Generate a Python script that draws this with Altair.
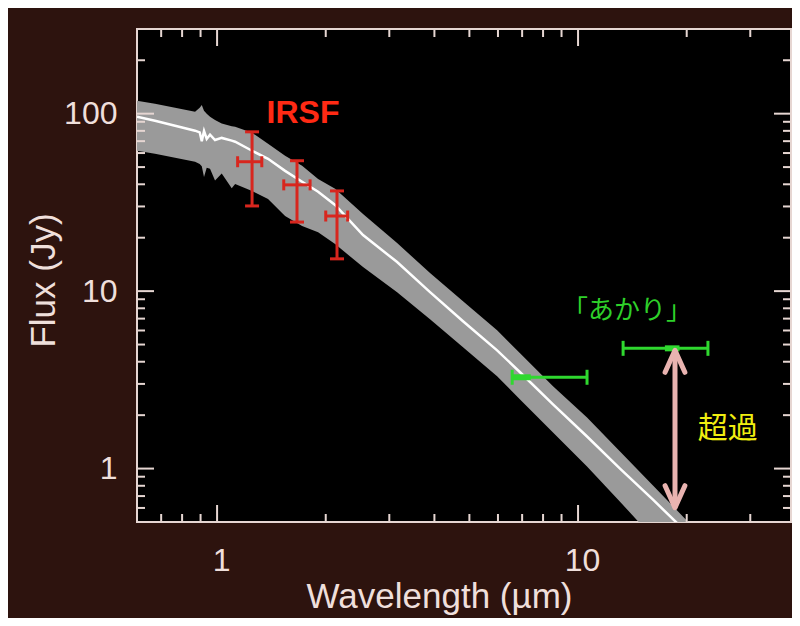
import altair as alt
import pandas as pd

# ---- model spectrum (gray band = range, white line = model)
wl = [0.600, 0.673, 0.765, 0.869, 0.895, 0.907, 0.920, 0.936, 0.956, 0.987, 1.030,
      1.098, 1.122, 1.250, 1.384, 1.543, 1.720, 1.905, 2.123, 2.537, 3.153, 3.890,
      4.801, 5.967, 6.908, 8.524, 10.59, 13.07, 16.13, 19.79, 24.7]
upper = [118.4, 113.9, 108.1, 102.6, 108.0, 112.0, 104.0, 100.0, 96.2, 92.0, 88.0,
         85.0, 84.4, 78.1, 67.7, 57.9, 50.8, 42.9, 37.7, 27.2, 18.67, 12.64,
         8.78, 6.02, 4.46, 2.91, 1.94, 1.247, 0.802, 0.522, 0.335]
model = [96.2, 91.3, 85.5, 80.2, 78.5, 70.0, 80.0, 72.0, 76.1, 71.0, 73.0,
         70.5, 69.5, 61.8, 55.7, 47.6, 41.3, 36.3, 30.6, 20.7, 14.58, 9.87,
         6.77, 4.64, 3.49, 2.30, 1.516, 1.0, 0.668, 0.446, 0.287]
lower = [61.8, 59.4, 56.4, 53.6, 52.0, 50.5, 44.0, 49.5, 48.9, 42.0, 46.0,
         38.0, 40.2, 36.7, 33.1, 26.5, 23.3, 21.5, 18.43, 13.66, 9.87, 6.95,
         4.83, 3.31, 2.45, 1.597, 1.026, 0.651, 0.408, 0.269, 0.170]

# ---- IRSF photometry (J, H, Ks)
irsf_wl = [1.25, 1.665, 2.149]
irsf_wl_lo = [1.14, 1.53, 2.00]
irsf_wl_hi = [1.33, 1.81, 2.30]
irsf_flux = [53.6, 39.7, 26.5]
irsf_lo = [30.2, 24.5, 15.2]
irsf_hi = [79.0, 54.3, 36.7]

# ---- AKARI photometry (9 um, 18 um bands)
akari_wl_lo = [6.57, 13.33]
akari_wl_hi = [10.59, 22.9]
akari_flux = [3.27, 4.76]
akari_mk_lo = [6.6, 17.4]
akari_mk_hi = [7.4, 19.1]

# ---- excess arrow
arrow_wl = [18.56]
arrow_top = [4.64]
arrow_bottom = [0.602]

# ---- labels
label_text = ["IRSF", "「あかり」", "超過"]
label_wl = [1.73, 13.67, 26.0]
label_flux = [101.0, 7.75, 1.68]

# ---- axis ticks
x_major = [1, 10]
x_minor = [0.7, 0.8, 0.9, 2, 3, 4, 5, 6, 7, 8, 9, 20, 30]
y_major = [1, 10, 100]
y_minor = [0.6, 0.7, 0.8, 0.9, 2, 3, 4, 5, 6, 7, 8, 9,
           20, 30, 40, 50, 60, 70, 80, 90, 200]

W, H = 654, 493
BG = "#2d130e"
FG = "#efdfdb"
FRAME = "#e6d6d2"

xs = alt.Scale(type="log", domain=[0.6, 38.9], nice=False)
ys = alt.Scale(type="log", domain=[0.5, 300], nice=False)

XT = "Wavelength (\u00b5m)"
YT = "Flux (Jy)"

x_axis = alt.Axis(values=x_major, format="~g", ticks=False, tickSize=0,
                  domain=False, grid=False, labelPadding=23, labelOffset=4,
                  labelFont="Liberation Sans", labelFontSize=32, labelColor=FG,
                  titleFont="Liberation Sans", titleFontSize=35,
                  titleFontWeight="normal", titleColor=FG,
                  titleX=302, titleY=85, titleAlign="center",
                  titleBaseline="alphabetic")
y_axis = alt.Axis(values=y_major, format="~g", ticks=False, tickSize=0,
                  domain=False, grid=False, labelPadding=20,
                  labelFont="Liberation Sans", labelFontSize=32, labelColor=FG,
                  titleFont="Liberation Sans", titleFontSize=35,
                  titleFontWeight="normal", titleColor=FG,
                  titleX=-94, titleY=251, titleAlign="center",
                  titleBaseline="middle", titleAngle=-90)


def X(field):
    return alt.X(field, scale=xs, axis=x_axis, title=XT)


def Y(field):
    return alt.Y(field, scale=ys, axis=y_axis, title=YT)


spec = pd.DataFrame({"wl": wl, "upper": upper, "model": model, "lower": lower})
irsf = pd.DataFrame({"wl": irsf_wl, "lo": irsf_wl_lo, "hi": irsf_wl_hi,
                     "f": irsf_flux, "flo": irsf_lo, "fhi": irsf_hi})
akari = pd.DataFrame({"lo": akari_wl_lo, "hi": akari_wl_hi, "f": akari_flux,
                      "mlo": akari_mk_lo, "mhi": akari_mk_hi})
arrow = pd.DataFrame({"wl": arrow_wl, "top": arrow_top, "bot": arrow_bottom})
labels = pd.DataFrame({"t": label_text, "wl": label_wl, "f": label_flux})

band = alt.Chart(spec).mark_area(color="#9a9a9a", clip=True).encode(
    x=X("wl:Q"), y=Y("upper:Q"), y2="lower:Q")

line = alt.Chart(spec).mark_line(color="white", strokeWidth=2.5, clip=True).encode(
    x=X("wl:Q"), y=Y("model:Q"))

layers = [band, line]


# axis tick rules (inward, on all four sides)
def tick_layers(vals, length, axis):
    df = pd.DataFrame({"v": vals})
    m = alt.Chart(df).mark_rule(color=FRAME, strokeWidth=2)
    out = []
    if axis == "x":
        out.append(m.encode(x=X("v:Q"), y=alt.value(H), y2=alt.value(H - length)))
        out.append(m.encode(x=X("v:Q"), y=alt.value(0), y2=alt.value(length)))
    else:
        out.append(m.encode(y=Y("v:Q"), x=alt.value(0), x2=alt.value(length)))
        out.append(m.encode(y=Y("v:Q"), x=alt.value(W), x2=alt.value(W - length)))
    return out


layers += tick_layers(x_major, 17, "x")
layers += tick_layers(x_minor, 8, "x")
layers += tick_layers(y_major, 17, "y")
layers += tick_layers(y_minor, 8, "y")

RED = "#d8261e"
ir = alt.Chart(irsf)
layers += [
    ir.mark_rule(color=RED, strokeWidth=3).encode(
        x=X("wl:Q"), y=Y("flo:Q"), y2="fhi:Q"),
    ir.mark_rule(color=RED, strokeWidth=3).encode(
        x=X("lo:Q"), x2="hi:Q", y=Y("f:Q")),
    ir.mark_tick(color=RED, orient="horizontal", size=14, thickness=3, opacity=1).encode(
        x=X("wl:Q"), y=Y("flo:Q")),
    ir.mark_tick(color=RED, orient="horizontal", size=14, thickness=3, opacity=1).encode(
        x=X("wl:Q"), y=Y("fhi:Q")),
    ir.mark_tick(color=RED, orient="vertical", size=11, thickness=3, opacity=1).encode(
        x=X("lo:Q"), y=Y("f:Q")),
    ir.mark_tick(color=RED, orient="vertical", size=11, thickness=3, opacity=1).encode(
        x=X("hi:Q"), y=Y("f:Q")),
]

GREEN = "#2fd82f"
ak = alt.Chart(akari)
layers += [
    ak.mark_rule(color=GREEN, strokeWidth=3).encode(
        x=X("lo:Q"), x2="hi:Q", y=Y("f:Q")),
    ak.mark_rule(color=GREEN, strokeWidth=6).encode(
        x=X("mlo:Q"), x2="mhi:Q", y=Y("f:Q")),
    ak.mark_tick(color=GREEN, orient="vertical", size=15, thickness=3, opacity=1).encode(
        x=X("lo:Q"), y=Y("f:Q")),
    ak.mark_tick(color=GREEN, orient="vertical", size=15, thickness=3, opacity=1).encode(
        x=X("hi:Q"), y=Y("f:Q")),
]

PINK = "#e9b3b0"
ar = alt.Chart(arrow)
layers += [
    ar.mark_rule(color=PINK, strokeWidth=5).encode(
        x=X("wl:Q"), y=Y("top:Q"), y2="bot:Q"),
    ar.mark_point(shape="M-0.45,1L0,0L0.45,1", size=1936, filled=False,
                  color=PINK, strokeWidth=5, opacity=1,
                  strokeCap="round", strokeJoin="round").encode(
        x=X("wl:Q"), y=Y("top:Q")),
    ar.mark_point(shape="M-0.45,-1L0,0L0.45,-1", size=1936, filled=False,
                  color=PINK, strokeWidth=5, opacity=1,
                  strokeCap="round", strokeJoin="round").encode(
        x=X("wl:Q"), y=Y("bot:Q")),
]

lab = alt.Chart(labels)
layers += [
    lab.transform_filter(alt.datum.t == "IRSF").mark_text(
        font="Liberation Sans", fontSize=32, fontWeight="bold", color="#ff2a14",
        baseline="middle", align="center").encode(
        x=X("wl:Q"), y=Y("f:Q"), text="t:N"),
    lab.transform_filter(alt.datum.t == "「あかり」").mark_text(
        font="Noto Sans CJK JP", fontSize=26, color="#2ed02a",
        baseline="middle", align="center").encode(
        x=X("wl:Q"), y=Y("f:Q"), text="t:N"),
    lab.transform_filter(alt.datum.t == "超過").mark_text(
        font="Noto Sans CJK JP", fontSize=30, color="#f0ee10",
        baseline="middle", align="center").encode(
        x=X("wl:Q"), y=Y("f:Q"), text="t:N"),
]

chart = alt.layer(*layers).properties(
    width=W, height=H,
    background=BG,
    padding={"left": 129, "top": 21, "right": 1, "bottom": 96},
    autosize=alt.AutoSizeParams(type="none"),
).configure_view(fill="black", stroke=FRAME, strokeWidth=2)

chart.save("out.html", embed_options={"renderer": "svg", "actions": False})
